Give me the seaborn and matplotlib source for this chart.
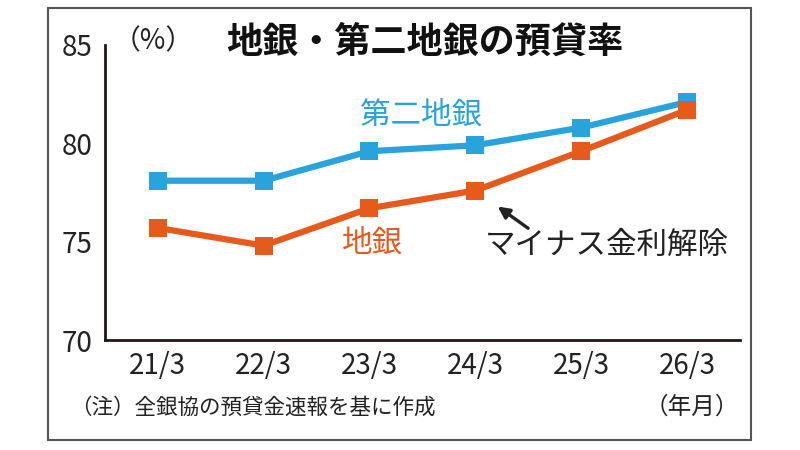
import pandas as pd
import seaborn as sns
import matplotlib.pyplot as plt
from matplotlib.patches import Rectangle

# データ
periods = ['21/3', '22/3', '23/3', '24/3', '25/3', '26/3']
daini_chigin = [78.1, 78.1, 79.6, 79.9, 80.8, 82.1]
chigin = [75.7, 74.8, 76.7, 77.6, 79.6, 81.7]
y_ticks = [70, 75, 80, 85]

sns.set_theme(style='white')
plt.rcParams['font.family'] = ['Noto Sans CJK JP', 'DejaVu Sans']

df = pd.DataFrame({
    'x': list(range(len(periods))) * 2,
    'rate': daini_chigin + chigin,
    'bank': ['第二地銀'] * len(periods) + ['地銀'] * len(periods),
})
palette = {'第二地銀': '#29a3dc', '地銀': '#e65a1c'}

fig = plt.figure(figsize=(8, 4.5), dpi=100)
ax = fig.add_axes([0.131, 0.2444, 0.794, 0.6556])

sns.lineplot(data=df, x='x', y='rate', hue='bank', palette=palette, marker='s',
             markersize=13, markeredgewidth=0, linewidth=4.5, legend=False, ax=ax)

ax.set_xlim(-0.5, 5.5)
ax.set_ylim(70, 85)
ax.set_xticks(range(len(periods)))
ax.set_xticklabels(periods)
ax.set_yticks(y_ticks)
ax.tick_params(axis='both', length=0, labelsize=20, colors='#222222')
ax.tick_params(axis='x', pad=8)
ax.tick_params(axis='y', pad=9)
ax.set_xlabel('')
ax.set_ylabel('')
for side in ['top', 'right']:
    ax.spines[side].set_visible(False)
for side in ['left', 'bottom']:
    ax.spines[side].set_color('#231815')
    ax.spines[side].set_linewidth(2)

# 外枠
fig.patches.append(Rectangle((48 / 800, 1 - 440 / 450), 703 / 800, 432 / 450,
                             transform=fig.transFigure, fill=False,
                             edgecolor='#555555', linewidth=1.5))

fig.text(0.531, 0.907, '地銀・第二地銀の預貸率', ha='center', va='center',
         fontsize=26, fontweight='bold', color='#111111')
fig.text(0.141, 0.909, '（%）', ha='left', va='center', fontsize=20, color='#222222')

ax.text(2.49, 81.45, '第二地銀', ha='center', va='center', fontsize=22, color='#29a3dc')
ax.text(2.03, 74.93, '地銀', ha='center', va='center', fontsize=22, color='#e65a1c')
ax.text(4.24, 74.83, 'マイナス金利解除', ha='center', va='center', fontsize=22, color='#222222')
ax.annotate('', xy=(3.19, 76.87), xytext=(3.52, 75.6),
            arrowprops=dict(arrowstyle='-|>', color='#222222', lw=2.4, mutation_scale=17))

fig.text(0.088, 0.093, '（注）全銀協の預貸金速報を基に作成', ha='left', va='center',
         fontsize=15.5, color='#222222')
fig.text(0.865, 0.096, '（年月）', ha='center', va='center', fontsize=17, color='#222222')

fig.savefig('out.png', dpi=100)
